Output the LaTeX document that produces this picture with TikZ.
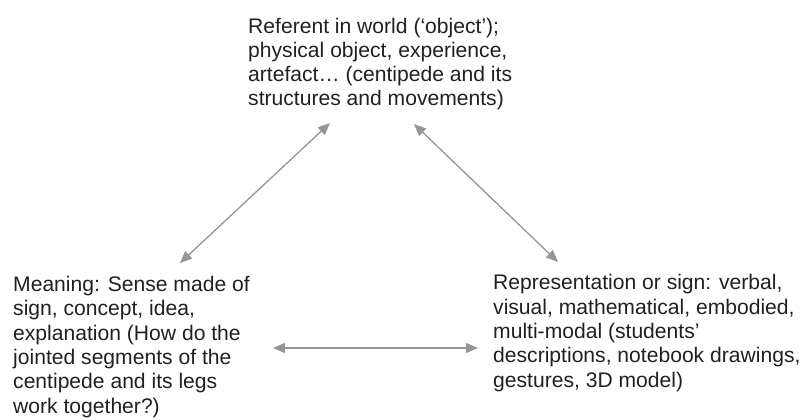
\documentclass[tikz,border=0pt]{standalone}
\usepackage{fontspec}
\setmainfont{Liberation Sans}
\usetikzlibrary{arrows.meta}
\definecolor{txt}{HTML}{231F20}
\definecolor{arr}{HTML}{939598}
\tikzset{
  label text/.style={align=left, inner sep=0pt, anchor=base west, text=txt,
    font=\fontsize{21.1}{24.3}\selectfont},
  link/.style={draw=arr, line width=1.3pt,
    {Triangle[length=12pt,width=10pt]}-{Triangle[length=12pt,width=10pt]}}
}
\begin{document}
\begin{tikzpicture}[x=1pt,y=-1pt]
\useasboundingbox (0,0) rectangle (804,420);
% nodes are placed by the baseline of their last line
\node[label text] (ref) at (248,106) {Referent in world (‘object’);\\physical object, experience,\\artefact… (centipede and its\\structures and movements)};
\node[label text] (mean) at (13,413) {Meaning: Sense made of\\sign, concept, idea,\\explanation (How do the\\jointed segments of the\\centipede and its legs\\work together?)};
\node[label text] (sign) at (493,387) {Representation or sign: verbal,\\visual, mathematical, embodied,\\multi-modal (students’\\descriptions, notebook drawings,\\gestures, 3D model)};
% arrow end points
\coordinate (refL) at (330,123);
\coordinate (refR) at (414,124);
\coordinate (meanT) at (180,263);
\coordinate (meanR) at (273,348);
\coordinate (signT) at (558,262);
\coordinate (signL) at (478,348);
\draw[link] (refL) -- (meanT);
\draw[link] (refR) -- (signT);
\draw[link] (meanR) -- (signL);
\end{tikzpicture}
\end{document}
